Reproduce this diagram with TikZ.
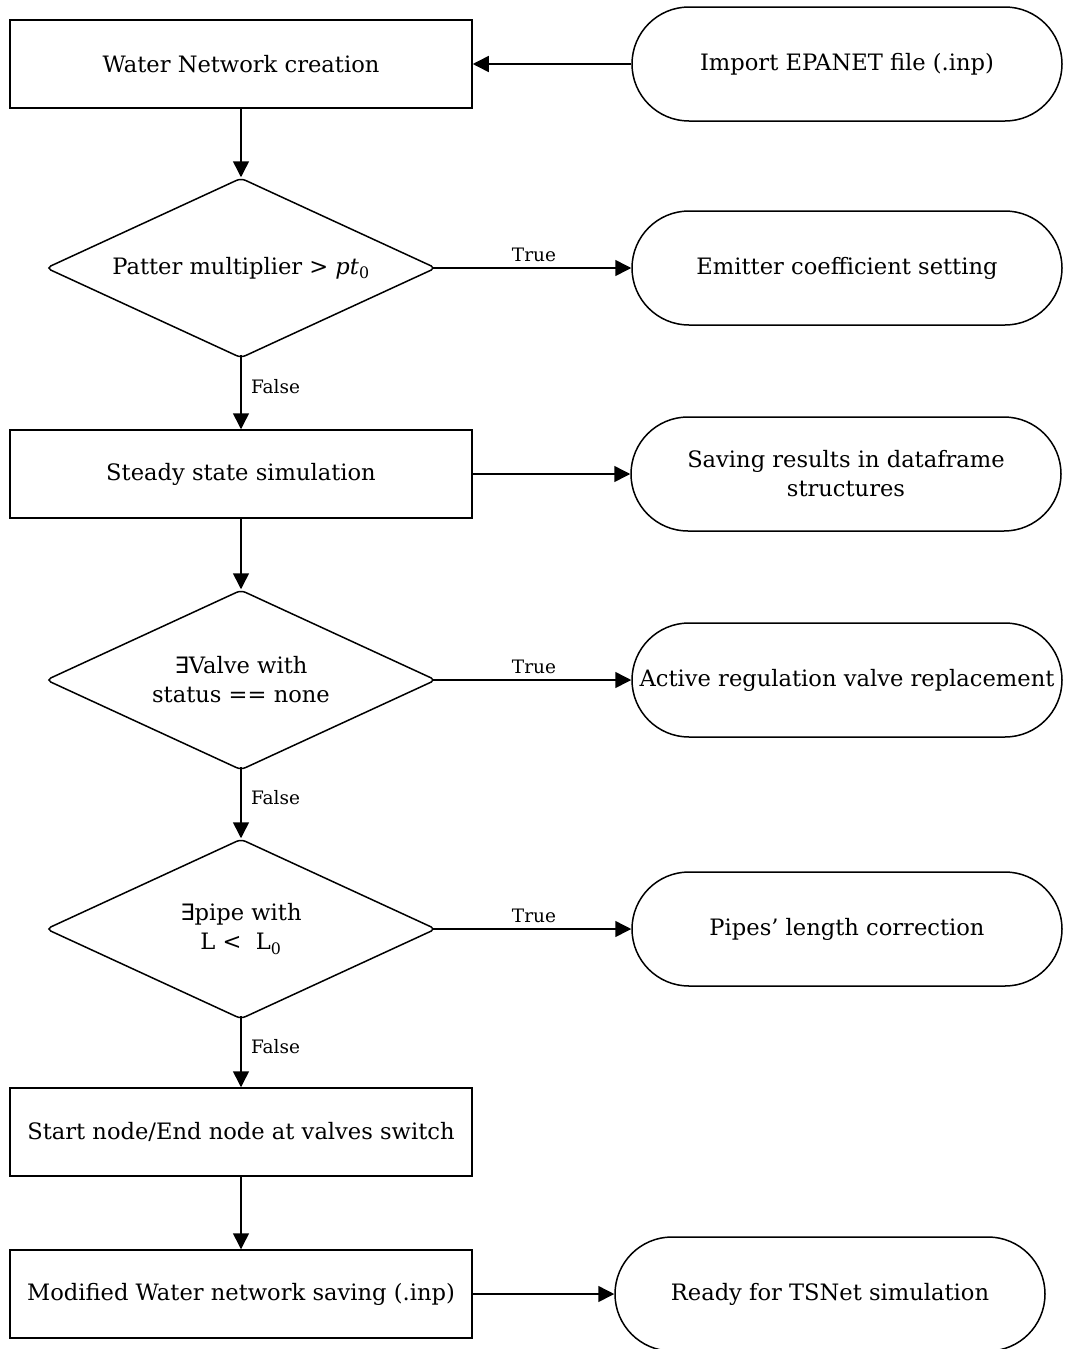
\documentclass[tikz,border=0pt]{standalone}
\usepackage{fontspec}
\setmainfont{DejaVu Serif}
\newfontfamily\symf{DejaVu Sans}
\usetikzlibrary{shapes.geometric,arrows.meta}
\begin{document}
\begin{tikzpicture}[x=1pt,y=-1pt,
  line width=1.5pt,
  mainfont/.style={font=\fontsize{22.6}{29}\selectfont},
  procbox/.style={draw, rectangle, minimum width=462pt, minimum height=88pt, inner sep=0pt, mainfont, align=center},
  term/.style={draw, rectangle, rounded corners=57pt, minimum width=430pt, minimum height=114pt, inner sep=0pt, mainfont, align=center},
  decis/.style={draw, diamond, aspect=2.1667, minimum width=390pt, minimum height=180pt, inner sep=0pt, rounded corners=5pt, mainfont, align=center},
  arr/.style={-{Triangle[length=16pt,width=16pt]}},
  lbl/.style={font=\fontsize{18.5}{22}\selectfont}
]
\useasboundingbox (0,0) rectangle (1065,1349);
\node[procbox] (wnc) at (241,64) {Water Network creation};
\node[term] (imp) at (847,64) {Import EPANET file (.inp)};
\node[decis] (d1) at (241,268) {Patter multiplier > \textit{pt}\textsubscript{0}};
\node[term] (emit) at (847,268) {Emitter coefficient setting};
\node[procbox] (ss) at (241,474) {Steady state simulation};
\node[term] (save) at (846,474) {Saving results in dataframe\\structures};
\node[decis] (d2) at (241,680) {{\symf ∃}Valve with\\status == none};
\node[term] (arv) at (847,680) {Active regulation valve replacement};
\node[decis] (d3) at (241,929) {{\symf ∃}pipe with\\L <~ L\textsubscript{0}};
\node[term] (pipes) at (847,929) {Pipes’ length correction};
\node[procbox] (sn) at (241,1132) {Start node/End node at valves switch};
\node[procbox] (mod) at (241,1294) {Modified Water network saving (.inp)};
\node[term] (ready) at (830,1294) {Ready for TSNet simulation};

\draw[arr] (imp.west) -- (wnc.east);
\draw[arr] (wnc.south) -- (d1.north);
\draw[arr, shorten <=-4pt] (d1.east) -- node[lbl, above=2pt] {True} (emit.west);
\draw[arr, shorten <=-4pt] (d1.south) -- node[lbl, right=6pt, pos=0.4] {False} (ss.north);
\draw[arr] (ss.east) -- (save.west);
\draw[arr] (ss.south) -- (d2.north);
\draw[arr, shorten <=-4pt] (d2.east) -- node[lbl, above=2pt] {True} (arv.west);
\draw[arr, shorten <=-4pt] (d2.south) -- node[lbl, right=6pt, pos=0.4] {False} (d3.north);
\draw[arr, shorten <=-4pt] (d3.east) -- node[lbl, above=2pt] {True} (pipes.west);
\draw[arr, shorten <=-4pt] (d3.south) -- node[lbl, right=6pt, pos=0.4] {False} (sn.north);
\draw[arr] (sn.south) -- (mod.north);
\draw[arr] (mod.east) -- (ready.west);
\end{tikzpicture}
\end{document}
